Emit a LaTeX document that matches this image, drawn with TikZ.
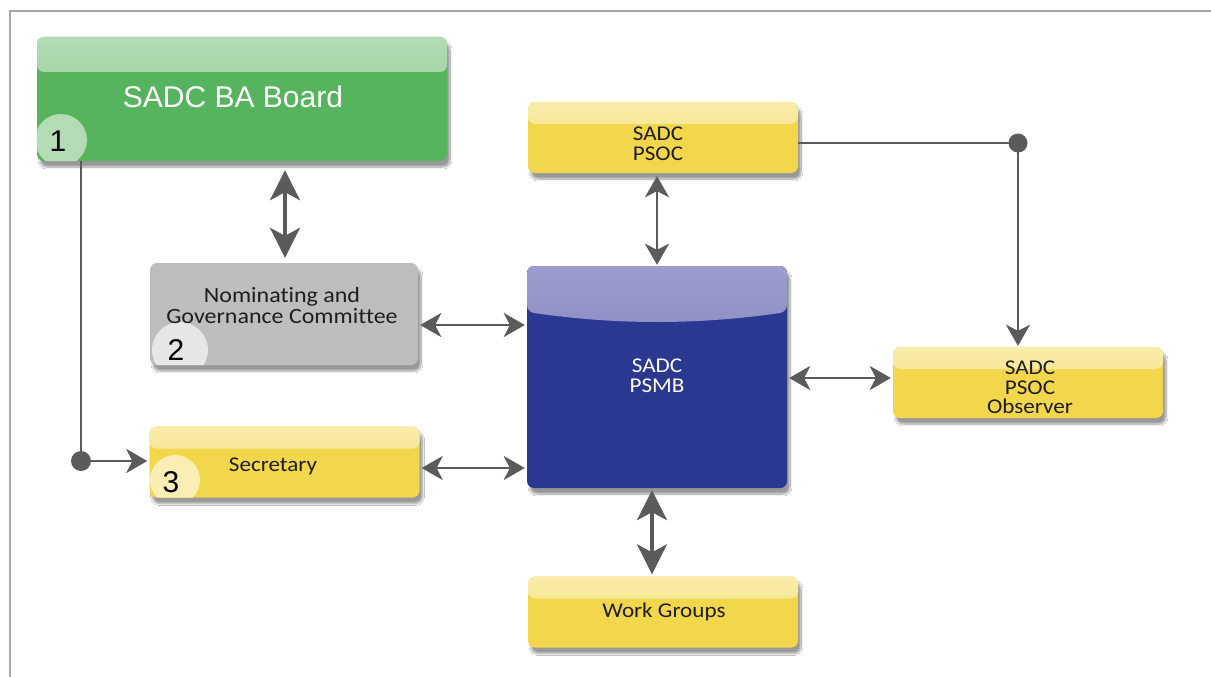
\documentclass[tikz,border=0pt]{standalone}
\usepackage{fontspec}
\setmainfont{Carlito}[FakeStretch=1.1,Ligatures={NoCommon}]
\newfontfamily\arialf{Liberation Sans}
\usetikzlibrary{arrows.meta,shadows.blur}
\definecolor{ygold}{HTML}{F2D64B}
\definecolor{ylight}{HTML}{F6E27E}
\definecolor{gbase}{HTML}{56B45E}
\definecolor{glight}{HTML}{A6D6A8}
\definecolor{bbase}{HTML}{2A3890}
\definecolor{blight}{HTML}{9C9DCD}
\definecolor{grayb}{HTML}{BEBEC0}
\definecolor{arr}{HTML}{5B5B5D}
\definecolor{framec}{HTML}{A8A8A8}
\definecolor{txt}{HTML}{1E1E1E}
\tikzset{
  box/.style={rounded corners=7pt, inner sep=0pt, align=center,
    blur shadow={shadow xshift=3pt,shadow yshift=-6pt,shadow blur steps=12,shadow opacity=40}},
  ybox/.style={box, fill=ygold, minimum width=270pt, minimum height=71pt,
    path picture={\shade[top color=ylight!65!white, bottom color=ylight!70!ygold]
      (path picture bounding box.north west) rectangle ([yshift=-22pt]path picture bounding box.north east);}},
  gbox/.style={box, fill=gbase,
    path picture={\shade[top color=glight!85!white, bottom color=glight!55!gbase]
      (path picture bounding box.north west) rectangle ([yshift=-35pt]path picture bounding box.north east);}},
  bbox/.style={box, fill=bbase,
    path picture={\shade[top color=blight, bottom color=blight!55!bbase]
      (path picture bounding box.north west) -- (path picture bounding box.north east)
      -- ([yshift=-46pt]path picture bounding box.north east)
      .. controls ([xshift=-90pt,yshift=-59pt]path picture bounding box.north east)
      and ([xshift=90pt,yshift=-59pt]path picture bounding box.north west)
      .. ([yshift=-46pt]path picture bounding box.north west) -- cycle;}},
  nbox/.style={box, fill=grayb},
  lbl/.style={font=\fontsize{21}{19.5}\selectfont, text=txt, align=center, inner sep=0pt},
  num/.style={font=\arialf\fontsize{30}{30}\selectfont, text=black, inner sep=0pt},
  arrthin/.style={draw=arr, line width=2.6pt, {Stealth[length=21pt,width=24pt,inset=6pt]}-{Stealth[length=21pt,width=24pt,inset=6pt]}},
  arrbig/.style={draw=arr, line width=3.6pt, {Stealth[length=30pt,width=30pt,inset=8pt]}-{Stealth[length=30pt,width=30pt,inset=8pt]}},
  arrone/.style={draw=arr, line width=2.4pt, -{Stealth[length=21pt,width=24pt,inset=6pt]}},
  conn/.style={draw=arr, line width=2.4pt},
  dot/.style={circle, fill=arr, inner sep=0pt, minimum size=20pt}
}
\begin{document}
\begin{tikzpicture}[x=1pt,y=-1pt]
\useasboundingbox (0,0) rectangle (1211,677);
\fill[white] (0,0) rectangle (1211,677);
\draw[framec, line width=1.6pt] (10,677) -- (10,11) -- (1211,11);

% boxes
\node[gbox, minimum width=410pt, minimum height=124pt] (board) at (242,99) {};
\node[nbox, minimum width=268pt, minimum height=102pt] (nom) at (284,314) {};
\node[ybox] (sec) at (284.5,462) {};
\node[ybox] (psoc) at (663,137.5) {};
\node[bbox, minimum width=260pt, minimum height=222pt] (psmb) at (657,377) {};
\node[ybox] (obs) at (1028,382.5) {};
\node[ybox] (wg) at (663,612) {};

% badges
\begin{scope}
\clip[rounded corners=7pt] (board.north west) rectangle (board.south east);
\fill[glight!85!white] (61,140) circle (26pt);
\end{scope}
\begin{scope}
\clip[rounded corners=7pt] (nom.north west) rectangle (nom.south east);
\fill[white!62!grayb] (180,350) circle (28pt);
\end{scope}
\begin{scope}
\clip[rounded corners=7pt] (sec.north west) rectangle (sec.south east);
\fill[white!58!ygold] (175,480) circle (25pt);
\end{scope}

% labels
\node[font=\arialf\fontsize{30}{30}\selectfont, text=white] (boardt) at (233,97) {SADC BA Board};
\node[lbl, font=\fontsize{21.8}{21}\selectfont] (nomt) at (282,306) {Nominating and\\Governance Committee};
\node[lbl] (sect) at (273,466) {Secretary};
\node[lbl] (psoct) at (658,144) {SADC\\PSOC};
\node[lbl, text=white] (psmbt) at (657,376) {SADC\\PSMB};
\node[lbl] (obst) at (1030,387.5) {SADC\\PSOC\\Observer};
\node[lbl] (wgt) at (664,612) {Work Groups};
\node[num] (n1) at (58,141) {1};
\node[num] (n2) at (176,350) {2};
\node[num] (n3) at (171,482) {3};

% connectors
\draw[arrbig] ([xshift=43pt,yshift=-9pt]board.south) -- ([xshift=1pt,yshift=5pt]nom.north);
\draw[arrthin] ([xshift=2pt]nom.east |- 0,325) -- ([xshift=-2pt]psmb.west |- 0,325);
\draw[arrthin] ([xshift=2pt]sec.east |- 0,468) -- ([xshift=-2pt]psmb.west |- 0,468);
\draw[arrthin] ([yshift=-3pt]psoc.south -| 657,0) -- ([yshift=1pt]psmb.north);
\draw[arrthin] ([xshift=2pt]psmb.east |- 0,378) -- ([xshift=-2pt]obs.west |- 0,378);
\draw[arrbig] ([yshift=-2pt]psmb.south -| 652,0) -- ([yshift=2pt]wg.north -| 652,0);

\coordinate (d1) at (81,461);
\node[dot] (dot1) at (d1) {};
\draw[conn] (board.south -| d1) -- (dot1.center);
\draw[arrone] (dot1.center) -- ([xshift=-2pt]sec.west |- d1);

\coordinate (d2) at (1018,143);
\node[dot, minimum size=19pt] (dot2) at (d2) {};
\draw[conn] (psoc.east |- d2) -- (dot2.center);
\draw[arrone] (dot2.center) -- ([yshift=1pt]obs.north -| d2);
\end{tikzpicture}
\end{document}
